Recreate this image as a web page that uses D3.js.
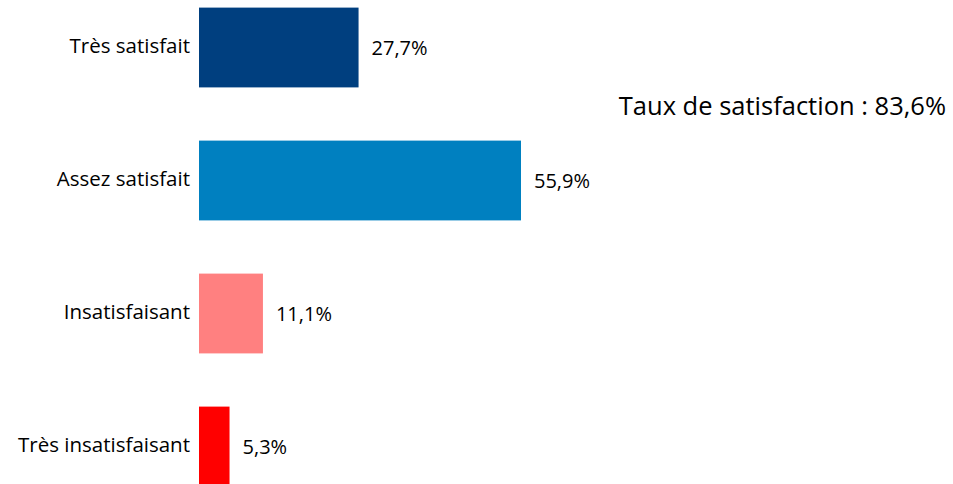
<!DOCTYPE html>
<html>
<head>
<meta charset="utf-8">
<script src="https://cdn.jsdelivr.net/npm/d3@7"></script>
<style>
  body { margin: 0; background: #fff; }
  text { font-family: "Open Sans", sans-serif; fill: #000; }
</style>
</head>
<body>
<script>
const categories = ["Très satisfait", "Assez satisfait", "Insatisfaisant", "Très insatisfaisant"];
const values = [27.7, 55.9, 11.1, 5.3];
const colors = ["#003F7F", "#0080C0", "#FF8080", "#FF0000"];
const titleText = "Taux de satisfaction : 83,6%";

const width = 953, height = 484;
const x0 = 199;

// 55.9% spans ~322px
const x = d3.scaleLinear().domain([0, 55.9]).range([x0, 521]);
const y = d3.scaleBand().domain(categories).range([-19, 513]).paddingInner(0.4).paddingOuter(0.2);

const fmt = v => d3.format(".1f")(v).replace(".", ",") + "%";

const svg = d3.select("body").append("svg")
  .attr("width", width)
  .attr("height", height);

svg.selectAll(".bar")
  .data(categories)
  .enter().append("rect")
  .attr("class", "bar")
  .attr("x", x(0))
  .attr("y", d => y(d))
  .attr("width", (d, i) => x(values[i]) - x(0))
  .attr("height", y.bandwidth())
  .attr("fill", (d, i) => colors[i]);

svg.selectAll(".cat")
  .data(categories)
  .enter().append("text")
  .attr("class", "cat")
  .attr("x", 190)
  .attr("y", d => y(d) + y.bandwidth() / 2 - 2)
  .attr("dy", "0.35em")
  .style("text-anchor", "end")
  .style("font-size", "20.5px")
  .text(d => d);

svg.selectAll(".val")
  .data(categories)
  .enter().append("text")
  .attr("class", "val")
  .attr("x", (d, i) => x(values[i]) + 13)
  .attr("y", d => y(d) + y.bandwidth() / 2)
  .attr("dy", "0.35em")
  .style("font-size", "20px")
  .text((d, i) => fmt(values[i]));

svg.append("text")
  .attr("x", 946)
  .attr("y", 115)
  .style("text-anchor", "end")
  .style("font-size", "25.5px")
  .text(titleText);
</script>
</body>
</html>
